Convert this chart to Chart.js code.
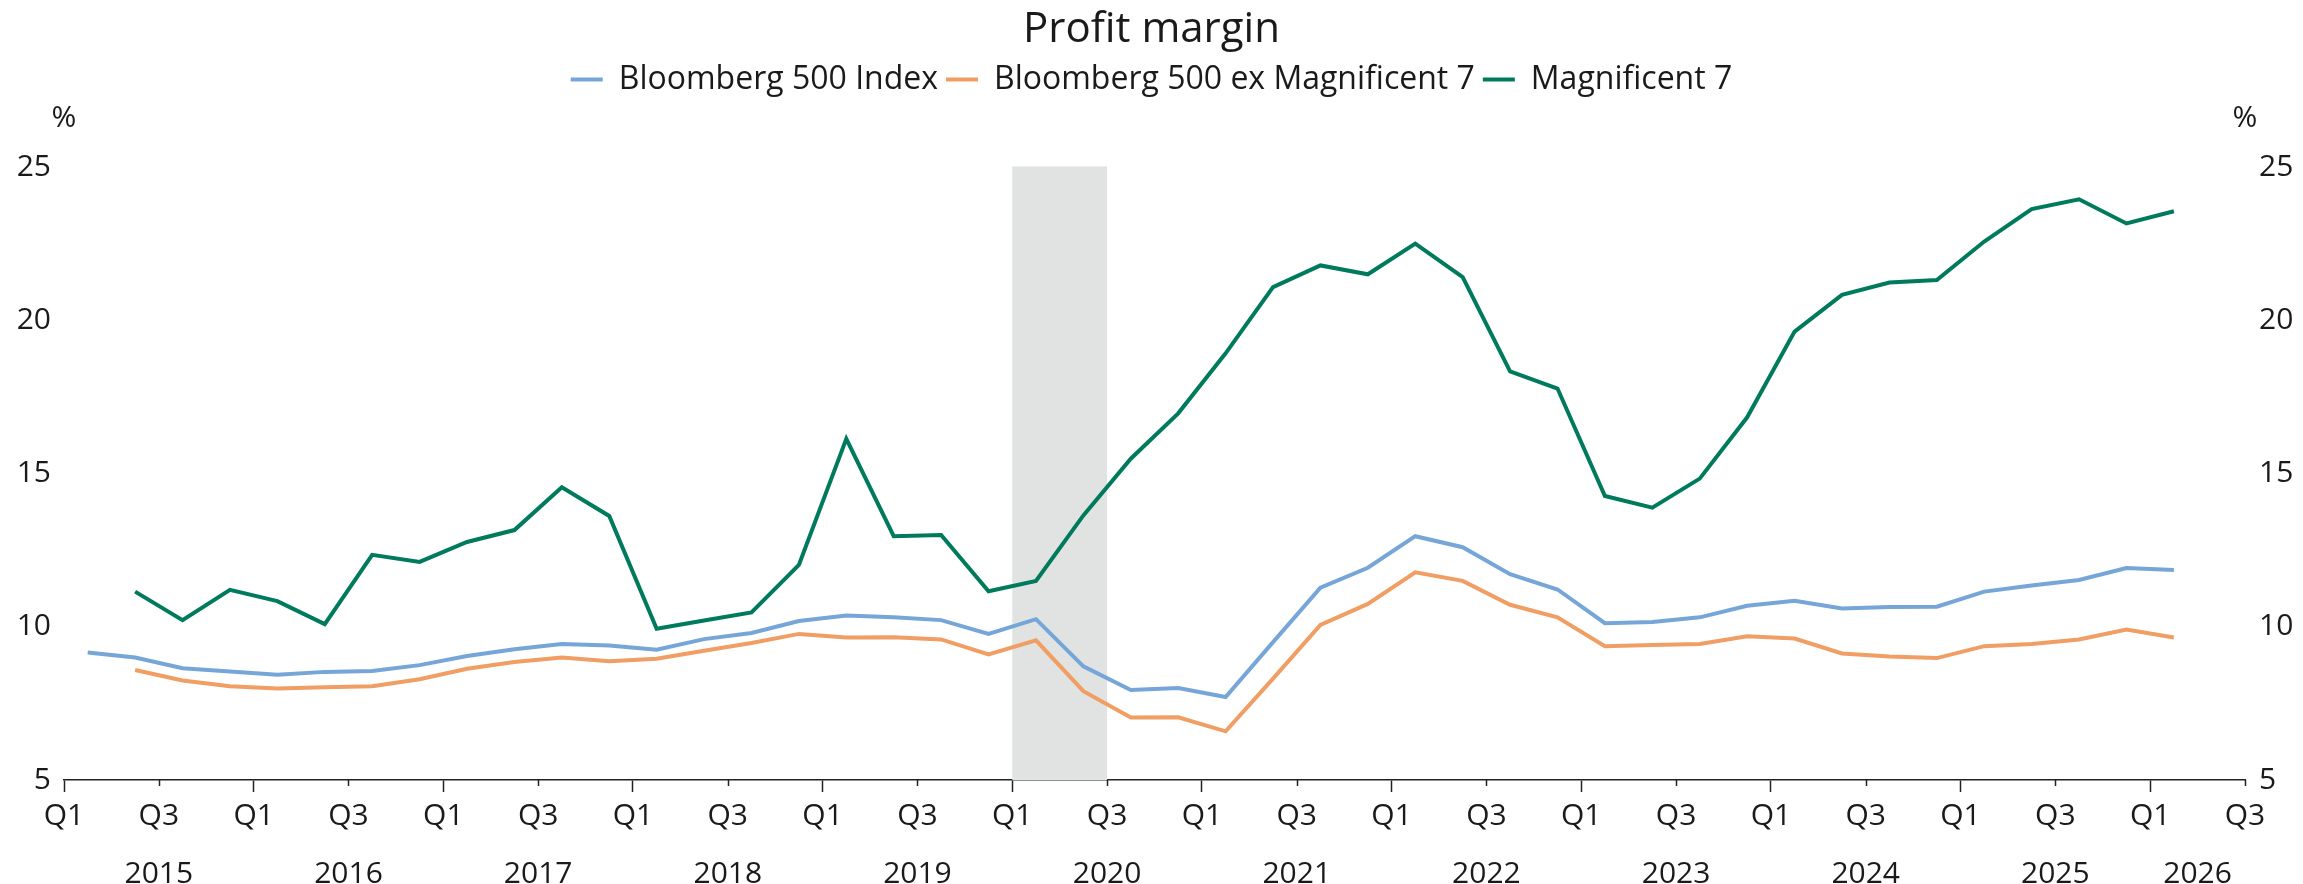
<!DOCTYPE html>
<html lang="en">
<head>
  <meta charset="UTF-8" />
  <title>Profit margin</title>
  <script src="https://cdn.jsdelivr.net/npm/chart.js"></script>
  <style>
    html, body { margin: 0; padding: 0; background: #fff; }
    #wrap { width: 2303px; height: 884px; position: relative; }
  </style>
</head>
<body>
  <div id="wrap"><canvas id="marginChart"></canvas></div>

  <script>
    // quarterly profit margins, %; orange and green start one quarter later
    const quarters = [
      "2015 Q1", "2015 Q2", "2015 Q3", "2015 Q4", "2016 Q1", "2016 Q2", "2016 Q3", "2016 Q4",
      "2017 Q1", "2017 Q2", "2017 Q3", "2017 Q4", "2018 Q1", "2018 Q2", "2018 Q3", "2018 Q4",
      "2019 Q1", "2019 Q2", "2019 Q3", "2019 Q4", "2020 Q1", "2020 Q2", "2020 Q3", "2020 Q4",
      "2021 Q1", "2021 Q2", "2021 Q3", "2021 Q4", "2022 Q1", "2022 Q2", "2022 Q3", "2022 Q4",
      "2023 Q1", "2023 Q2", "2023 Q3", "2023 Q4", "2024 Q1", "2024 Q2", "2024 Q3", "2024 Q4",
      "2025 Q1", "2025 Q2", "2025 Q3", "2025 Q4", "2026 Q1"
    ];
    const bbg500 = [
      9.16, 9.00, 8.65, 8.54, 8.44, 8.53, 8.56, 8.75, 9.05, 9.27,
      9.44, 9.39, 9.25, 9.60, 9.80, 10.19, 10.37, 10.31, 10.22, 9.77,
      10.25, 8.71, 7.94, 8.00, 7.71, 9.50, 11.28, 11.93, 12.96, 12.60,
      11.72, 11.22, 10.12, 10.16, 10.31, 10.69, 10.85, 10.60, 10.65, 10.66,
      11.15, 11.35, 11.53, 11.92, 11.86
    ];
    const bbg500exMag7 = [
      null, 8.59, 8.25, 8.06, 7.99, 8.03, 8.06, 8.29, 8.63, 8.85,
      9.00, 8.88, 8.96, 9.22, 9.47, 9.77, 9.65, 9.66, 9.59, 9.10,
      9.56, 7.90, 7.04, 7.05, 6.59, 8.31, 10.06, 10.75, 11.78, 11.50,
      10.72, 10.31, 9.37, 9.41, 9.44, 9.69, 9.62, 9.13, 9.03, 8.98,
      9.37, 9.44, 9.59, 9.91, 9.65
    ];
    const mag7 = [
      null, 11.15, 10.22, 11.21, 10.84, 10.09, 12.35, 12.12, 12.77, 13.16,
      14.56, 13.62, 9.94, 10.21, 10.47, 12.02, 16.14, 12.96, 13.00, 11.16,
      11.50, 13.64, 15.49, 16.97, 18.93, 21.09, 21.80, 21.51, 22.51, 21.42,
      18.34, 17.78, 14.27, 13.89, 14.84, 16.84, 19.64, 20.84, 21.24, 21.32,
      22.58, 23.64, 23.96, 23.17, 23.57
    ];
    const years = [2015, 2016, 2017, 2018, 2019, 2020, 2021, 2022, 2023, 2024, 2025, 2026];
    const recession = ["2020 Q1", "2020 Q3"];

    const FONT = "'Open Sans', 'Noto Sans', sans-serif";
    const TEXT = "#1a1a1a";
    const xMax = (years.length - 1) * 4 + 2; // axis runs to Q3 of last year

    // quarter index -> x value, points sit mid-quarter
    function toPoints(values) {
      const pts = [];
      values.forEach((v, i) => {
        if (v !== null) pts.push({ x: i + 0.5, y: v });
      });
      return pts;
    }

    // year label in the middle of the visible part of each year
    const yearTicks = years.map((yr, i) => {
      const start = i * 4;
      return { value: (start + Math.min(start + 4, xMax)) / 2, label: String(yr) };
    });

    const shadePlugin = {
      id: "shade",
      beforeDatasetsDraw(chart) {
        const { ctx, chartArea, scales } = chart;
        const x0 = scales.x.getPixelForValue(quarters.indexOf(recession[0]));
        const x1 = scales.x.getPixelForValue(quarters.indexOf(recession[1]));
        ctx.save();
        ctx.fillStyle = "#e1e3e2";
        ctx.fillRect(x0, chartArea.top - 1, x1 - x0, chartArea.bottom - chartArea.top + 1);
        ctx.restore();
      }
    };

    const extrasPlugin = {
      id: "extras",
      afterDraw(chart) {
        const { ctx, chartArea, scales } = chart;
        ctx.save();
        // short ticks for Q3
        ctx.strokeStyle = "#222";
        ctx.lineWidth = 1.5;
        for (let v = 2; v <= xMax; v += 4) {
          const px = Math.round(scales.x.getPixelForValue(v)) + 0.5;
          ctx.beginPath();
          ctx.moveTo(px, chartArea.bottom);
          ctx.lineTo(px, chartArea.bottom + 6);
          ctx.stroke();
        }
        // unit labels
        ctx.fillStyle = TEXT;
        ctx.font = "30px " + FONT;
        ctx.textAlign = "center";
        ctx.textBaseline = "middle";
        ctx.fillText("%", chartArea.left, chartArea.top - 49);
        ctx.fillText("%", chartArea.right, chartArea.top - 49);
        ctx.restore();
      }
    };

    new Chart(document.getElementById("marginChart"), {
      type: "line",
      data: {
        datasets: [
          { label: "Bloomberg 500 Index", data: toPoints(bbg500), borderColor: "#76a5d8", backgroundColor: "#76a5d8" },
          { label: "Bloomberg 500 ex Magnificent 7", data: toPoints(bbg500exMag7), borderColor: "#f19e64", backgroundColor: "#f19e64" },
          { label: "Magnificent 7", data: toPoints(mag7), borderColor: "#007a5c", backgroundColor: "#007a5c" }
        ]
      },
      options: {
        responsive: true,
        maintainAspectRatio: false,
        animation: false,
        datasets: { line: { borderWidth: 4, pointRadius: 0, tension: 0 } },
        layout: { padding: 0 },
        plugins: {
          title: {
            display: true,
            text: "Profit margin",
            color: TEXT,
            font: { family: FONT, size: 42, weight: "normal" },
            padding: { top: 5, bottom: 0 }
          },
          legend: {
            weight: 1800,
            labels: {
              color: TEXT,
              font: { family: FONT, size: 32 },
              usePointStyle: true,
              pointStyle: "line",
              pointStyleWidth: 32,
              padding: 8
            }
          },
          subtitle: {
            // empty spacer between legend and plot
            display: true,
            text: "",
            font: { size: 10 },
            padding: { top: 0, bottom: 50 }
          },
          tooltip: { enabled: false }
        },
        scales: {
          x: {
            type: "linear",
            position: "bottom",
            weight: 0,
            min: 0,
            max: xMax,
            afterFit: s => { s.height = 62; },
            ticks: {
              stepSize: 2,
              autoSkip: false,
              maxRotation: 0,
              padding: 6,
              color: TEXT,
              font: { family: FONT, size: 30 },
              callback: v => (v % 4 === 0 ? "Q1" : "Q3")
            },
            grid: {
              drawOnChartArea: false,
              tickLength: 12,
              tickWidth: 1.5,
              tickColor: c => (c.tick && c.tick.value % 4 === 0 ? "#222" : "rgba(0,0,0,0)")
            },
            border: { display: true, color: "#222", width: 1.5 }
          },
          years: {
            type: "linear",
            position: "bottom",
            weight: 1,
            min: 0,
            max: xMax,
            afterBuildTicks: s => { s.ticks = yearTicks.map(t => ({ value: t.value })); },
            afterFit: s => { s.height = 42; },
            ticks: {
              autoSkip: false,
              maxRotation: 0,
              padding: 6,
              color: TEXT,
              font: { family: FONT, size: 30 },
              callback: v => (yearTicks.find(t => t.value === v) || {}).label
            },
            grid: { display: false },
            border: { display: false }
          },
          y: {
            position: "left",
            min: 5,
            max: 25,
            afterFit: s => { s.width = 64; },
            ticks: { stepSize: 5, padding: 13, color: TEXT, font: { family: FONT, size: 30 } },
            grid: { display: false, drawTicks: false },
            border: { display: false }
          },
          y2: {
            position: "right",
            min: 5,
            max: 25,
            afterFit: s => { s.width = 58; },
            ticks: { stepSize: 5, padding: 14, color: TEXT, font: { family: FONT, size: 30 } },
            grid: { display: false, drawTicks: false },
            border: { display: false }
          }
        }
      },
      plugins: [shadePlugin, extrasPlugin]
    });
  </script>
</body>
</html>
